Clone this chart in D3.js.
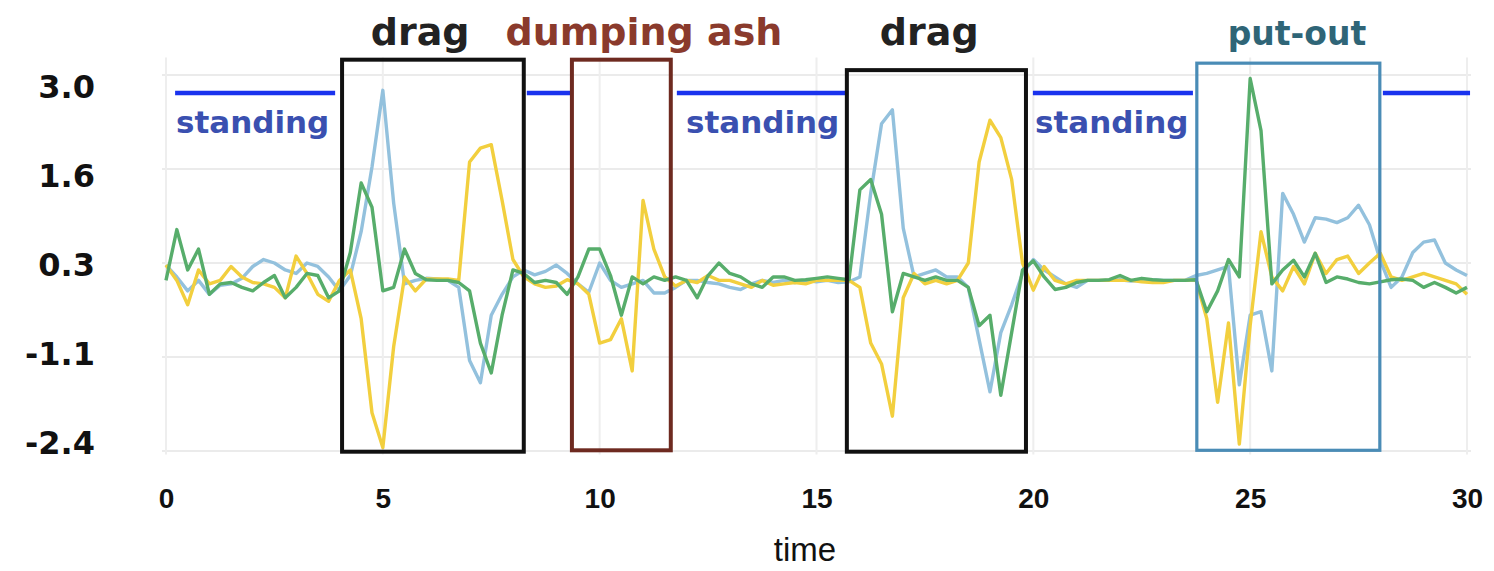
<!DOCTYPE html>
<html>
<head>
<meta charset="utf-8">
<script src="https://cdn.jsdelivr.net/npm/d3@7"></script>
<style>
  html, body { margin: 0; padding: 0; background: #fff; }
  svg { display: block; }
</style>
</head>
<body>
<div id="chart"></div>
<script>
// samples every 0.25 time units, 0 .. 30
var step = 0.25;
var greenValues = [
  0.05, 0.78, 0.2, 0.5, -0.15, 0.0, 0.02, -0.05, -0.1, 0.02,
  0.12, -0.2, -0.05, 0.15, 0.12, -0.2, -0.1, 0.45, 1.45, 1.1,
  -0.1, -0.05, 0.5, 0.15, 0.06, 0.05, 0.05, 0.02, -0.1, -0.85,
  -1.28, -0.45, 0.2, 0.15, 0.02, 0.05, 0.02, -0.15, 0.1, 0.5,
  0.5, 0.12, -0.45, 0.1, 0.0, 0.1, 0.05, 0.1, 0.05, -0.2,
  0.12, 0.3, 0.15, 0.1, 0.0, -0.05, 0.1, 0.1, 0.05, 0.06,
  0.08, 0.1, 0.08, 0.06, 1.35, 1.5, 1.0, -0.4, 0.15, 0.1,
  0.05, 0.1, 0.05, 0.05, -0.05, -0.6, -0.45, -1.6, -0.7, 0.2,
  0.33, 0.1, -0.08, -0.05, 0.02, 0.05, 0.05, 0.06, 0.12, 0.05,
  0.08, 0.06, 0.05, 0.05, 0.05, 0.06, -0.4, -0.1, 0.35, 0.1,
  2.95, 2.2, 0.0, 0.2, 0.34, 0.1, 0.44, 0.02, 0.1, 0.07,
  0.02, 0.0, 0.03, 0.06, 0.07, 0.05, -0.05, 0.02, -0.05, -0.13,
  -0.05
];
var blueValues = [
  0.27, 0.1, -0.1, 0.05, -0.15, -0.02, 0.0, 0.08, 0.25, 0.35,
  0.3, 0.2, 0.15, 0.3, 0.25, 0.1, -0.1, 0.12, 0.75, 1.68,
  2.78, 1.16, 0.0, 0.05, 0.08, 0.07, 0.05, -0.05, -1.1, -1.42,
  -0.45, -0.15, 0.1, 0.2, 0.13, 0.18, 0.27, 0.15, 0.0, -0.12,
  0.3, 0.05, -0.05, 0.0, 0.05, -0.13, -0.13, -0.05, 0.05, 0.05,
  0.02, 0.0, -0.05, -0.08, 0.0, 0.05, 0.02, 0.05, 0.02, 0.05,
  0.03, 0.05, 0.02, 0.03, 0.1, 1.3, 2.3, 2.5, 0.8, 0.1,
  0.15, 0.2, 0.1, 0.1, -0.05, -0.8, -1.55, -0.7, -0.3, 0.15,
  0.35, 0.2, 0.1, 0.0, -0.05, 0.05, 0.05, 0.05, 0.06, 0.04,
  0.05, 0.06, 0.05, 0.05, 0.05, 0.12, 0.15, 0.2, 0.25, -1.45,
  -0.45, -0.4, -1.25, 1.3, 1.0, 0.6, 0.95, 0.93, 0.88, 0.95,
  1.13, 0.85, 0.34, -0.05, 0.1, 0.45, 0.6, 0.63, 0.3, 0.2,
  0.12
];
var yellowValues = [
  0.27, 0.05, -0.3, 0.2, 0.0, 0.05, 0.25, 0.1, 0.02, 0.0,
  -0.05, -0.2, 0.4, 0.15, -0.15, -0.25, 0.05, 0.2, -0.5, -1.85,
  -2.35, -0.9, 0.1, -0.1, 0.07, 0.07, 0.07, 0.05, 1.75, 1.95,
  2.0, 1.2, 0.35, 0.1, 0.0, -0.05, -0.03, 0.06, 0.0, -0.15,
  -0.85, -0.8, -0.5, -1.25, 1.2, 0.5, 0.1, -0.03, 0.05, 0.02,
  0.12, 0.05, 0.05, 0.0, -0.05, 0.05, -0.02, 0.0, 0.02, 0.0,
  0.05, 0.05, 0.05, 0.05, -0.05, -0.85, -1.15, -1.9, -0.2, 0.15,
  0.0, 0.05, 0.0, 0.05, 0.3, 1.75, 2.35, 2.1, 1.5, 0.3,
  -0.09, 0.25, 0.05, 0.0, 0.05, 0.05, 0.05, 0.05, 0.05, 0.05,
  0.03, 0.02, 0.02, 0.05, 0.05, 0.06, -0.5, -1.7, -0.56, -2.3,
  -0.6, 0.75, 0.1, -0.1, 0.25, 0.0, 0.44, 0.15, 0.35, 0.4,
  0.15, 0.3, 0.44, 0.1, 0.05, 0.1, 0.15, 0.1, 0.05, 0.0,
  -0.15
];

var xTicks = [0, 5, 10, 15, 20, 25, 30];
var yTicks = [3.0, 1.65, 0.3, -1.05, -2.4];
var yTickLabels = ["3.0", "1.6", "0.3", "-1.1", "-2.4"];

// activity boxes: [start, end] in time, top / bottom in value units
var activityNames = ["drag", "dumping ash", "drag", "put-out"];
var activityStart = [4.06, 9.36, 15.7, 23.77];
var activityEnd = [8.25, 11.64, 19.83, 27.99];
var activityTop = [3.22, 3.22, 3.07, 3.17];
var activityBottom = [-2.41, -2.39, -2.41, -2.39];
var activityTitleX = [5.86, 11.02, 17.6, 26.08];
var activityColors = ["#111111", "#6e2a20", "#111111", "#4a8cb6"];
var activityTitleColors = ["#222222", "#8a3a2c", "#222222", "#2f6577"];

// standing segments
var standingStart = [0.21, 8.32, 11.78, 19.99, 28.06];
var standingEnd = [3.9, 9.36, 15.73, 23.68, 30.07];
var standingLevel = 2.74;
var standingLabelX = [0.23, 11.99, 20.04];

var width = 1494, height = 571;
var svg = d3.select("#chart").append("svg")
  .attr("width", width)
  .attr("height", height);

svg.append("rect").attr("width", width).attr("height", height).attr("fill", "#fff");

var x = d3.scaleLinear().domain([0, 30]).range([166, 1467]);
var y = d3.scaleLinear().domain([-2.4, 3.0]).range([451, 75]);
var yLabel = y.copy().range([442, 86]);

// grid
var grid = svg.append("g").attr("class", "grid");
grid.selectAll("line.h").data(yTicks).enter().append("line")
  .attr("class", "h")
  .attr("x1", x(0) - 4).attr("x2", x(30) + 4)
  .attr("y1", d => y(d)).attr("y2", d => y(d))
  .attr("stroke", "#ebebeb").attr("stroke-width", 2);
grid.selectAll("line.v").data(xTicks).enter().append("line")
  .attr("class", "v")
  .attr("x1", d => x(d)).attr("x2", d => x(d))
  .attr("y1", y(3.25)).attr("y2", y(-2.45))
  .attr("stroke", "#eeeeee").attr("stroke-width", 2);

// y labels
svg.append("g").selectAll("text").data(yTicks).enter().append("text")
  .attr("x", 95)
  .attr("y", d => yLabel(d))
  .attr("dy", "0.36em")
  .attr("text-anchor", "end")
  .attr("font-family", "DejaVu Sans")
  .attr("font-weight", "bold")
  .attr("font-size", 32)
  .attr("fill", "#111")
  .text((d, i) => yTickLabels[i]);

// x axis
var xAxis = svg.append("g")
  .attr("transform", "translate(0," + 482 + ")")
  .call(d3.axisBottom(x).tickValues(xTicks).tickSize(0).tickPadding(6));
xAxis.select(".domain").remove();
xAxis.selectAll("text")
  .attr("font-family", "Liberation Sans, Arial, sans-serif")
  .attr("font-weight", "bold")
  .attr("font-size", 28)
  .attr("fill", "#111");

svg.append("text")
  .attr("x", 805).attr("y", 561)
  .attr("text-anchor", "middle")
  .attr("font-family", "Liberation Sans, Arial, sans-serif")
  .attr("font-size", 33)
  .attr("fill", "#111")
  .text("time");

// standing lines
svg.append("g").selectAll("line").data(standingStart).enter().append("line")
  .attr("x1", d => x(d))
  .attr("x2", (d, i) => x(standingEnd[i]))
  .attr("y1", y(standingLevel)).attr("y2", y(standingLevel))
  .attr("stroke", "#1a33ee").attr("stroke-width", 4.5);
svg.append("g").selectAll("text").data(standingLabelX).enter().append("text")
  .attr("x", d => x(d))
  .attr("y", y(standingLevel) + 40)
  .attr("font-family", "DejaVu Sans")
  .attr("font-weight", "bold")
  .attr("font-size", 31)
  .attr("fill", "#3a50b0")
  .text("standing");

// series
var series = [
  { name: "lightblue", values: blueValues, color: "#93c1dd" },
  { name: "yellow", values: yellowValues, color: "#f2cf3e" },
  { name: "green", values: greenValues, color: "#57ad6b" }
];
var line = d3.line()
  .x((d, i) => x(i * step))
  .y(d => y(d));
svg.append("g").selectAll("path").data(series).enter().append("path")
  .attr("d", d => line(d.values))
  .attr("fill", "none")
  .attr("stroke", d => d.color)
  .attr("stroke-width", 3.4)
  .attr("stroke-linejoin", "round");

// activity boxes
var boxes = svg.append("g");
boxes.selectAll("rect").data(activityNames).enter().append("rect")
  .attr("x", (d, i) => x(activityStart[i]))
  .attr("y", (d, i) => y(activityTop[i]))
  .attr("width", (d, i) => x(activityEnd[i]) - x(activityStart[i]))
  .attr("height", (d, i) => y(activityBottom[i]) - y(activityTop[i]))
  .attr("fill", "none")
  .attr("stroke", (d, i) => activityColors[i])
  .attr("stroke-width", (d, i) => i == 3 ? 3.2 : 4);
boxes.selectAll("text").data(activityNames).enter().append("text")
  .attr("x", (d, i) => x(activityTitleX[i]))
  .attr("y", 45)
  .attr("text-anchor", "middle")
  .attr("font-family", "DejaVu Sans")
  .attr("font-weight", "bold")
  .attr("font-size", (d, i) => i == 3 ? 33 : 38)
  .attr("fill", (d, i) => activityTitleColors[i])
  .text(d => d);
</script>
</body>
</html>
